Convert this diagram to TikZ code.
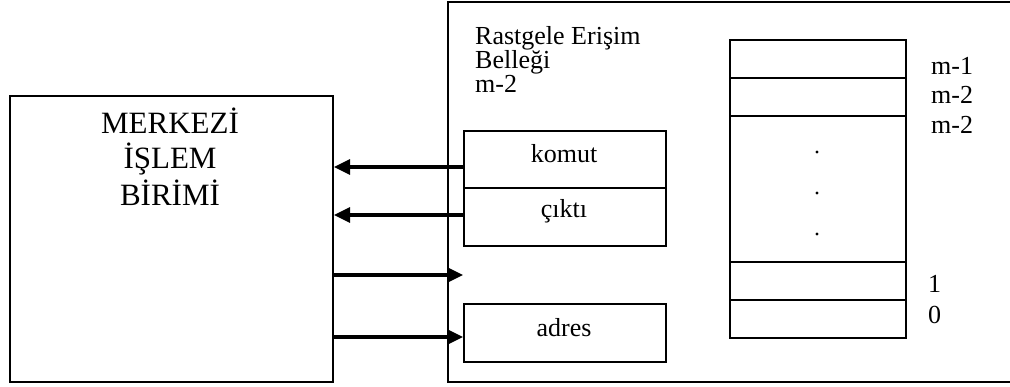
\documentclass[tikz,border=0pt]{standalone}
\usepackage{fontspec}
\setmainfont{Liberation Serif}
\usetikzlibrary{arrows.meta}
\begin{document}
\begin{tikzpicture}[x=1pt,y=-1pt,
  box/.style={draw,line width=2pt,inner sep=0pt,anchor=north west},
  cell/.style={draw,line width=2pt,inner sep=0pt,anchor=north west,minimum width=176pt},
  lbl/.style={inner sep=0pt,anchor=base west,font=\fontsize{26}{30}\selectfont},
  clbl/.style={inner sep=0pt,anchor=base,font=\fontsize{26}{30}\selectfont},
  big/.style={inner sep=0pt,anchor=base,font=\fontsize{31}{36}\selectfont},
  arr/.style={line width=3.2pt,-{Triangle[length=16pt,width=15pt]}},
  dot/.style={circle,fill,inner sep=0pt,minimum size=3.2pt}]
\useasboundingbox (0,0) rectangle (1010,387);

% processor block
\node[box,minimum width=323pt,minimum height=286pt] (cpu) at (9,95) {};
\node[big] (c1) at (170,134) {MERKEZİ};
\node[big] (c2) at (170,169) {İŞLEM};
\node[big] (c3) at (170,206) {BİRİMİ};

% memory block
\node[box,minimum width=565pt,minimum height=380pt] (ram) at (447,1) {};
\node[lbl] (t1) at (475,45) {Rastgele Erişim};
\node[lbl] (t2) at (475,69) {Belleği};
\node[lbl] (t3) at (475,93) {m-2};

% registers
\node[box,minimum width=202pt,minimum height=57pt] (komut) at (463,130) {};
\node[box,minimum width=202pt,minimum height=58pt] (cikti) at (463,187) {};
\node[box,minimum width=202pt,minimum height=58pt] (adres) at (463,303) {};
\node[clbl] (tk) at (564,163) {komut};
\node[clbl] (tc) at (564,218) {çıktı};
\node[clbl] (ta) at (564,337) {adres};

% memory cells
\node[cell,minimum height=38pt] (m1) at (729,39) {};
\node[cell,minimum height=38pt] (m2) at (729,77) {};
\node[cell,minimum height=146pt] (mid) at (729,115) {};
\node[cell,minimum height=38pt] (w1) at (729,261) {};
\node[cell,minimum height=38pt] (w0) at (729,299) {};
\node[dot] (d1) at (817,152) {};
\node[dot] (d2) at (817,193) {};
\node[dot] (d3) at (817,234) {};

% cell addresses
\node[lbl] (a1) at (931,75) {m-1};
\node[lbl] (a2) at (931,104) {m-2};
\node[lbl] (a3) at (931,134) {m-2};
\node[lbl] (a4) at (928,293) {1};
\node[lbl] (a5) at (928,324) {0};

% signal lines
\coordinate (k) at (463,167);
\coordinate (c) at (463,215);
\coordinate (p) at (332,275);
\coordinate (q) at (332,337);
\draw[arr] (k) -- (k -| cpu.east);
\draw[arr] (c) -- (c -| cpu.east);
\draw[arr] (p) -- (p -| adres.west);
\draw[arr] (q) -- (q -| adres.west);
\end{tikzpicture}
\end{document}
